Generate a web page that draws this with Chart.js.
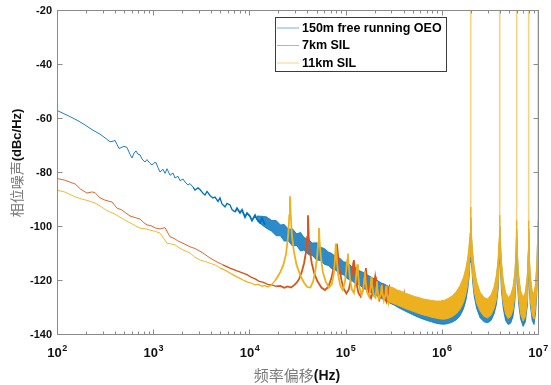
<!DOCTYPE html>
<html><head><meta charset="utf-8">
<script src="https://cdn.jsdelivr.net/npm/chart.js@4.4.1/dist/chart.umd.min.js"></script>
<style>
html,body{margin:0;padding:0;background:#fff;}
canvas{display:block;}
</style></head>
<body>
<canvas id="c" width="551" height="385"></canvas>
<script>
// ---- tick labels ----
const yTickLabels = [-20, -40, -60, -80, -100, -120, -140];
const xTickExps = [2, 3, 4, 5, 6, 7];
const seriesNames = ['150m free running OEO', '7km SIL', '11km SIL'];
const xTitleCN = '频率偏移', xTitleEN = '(Hz)';
const yTitleCN = '相位噪声', yTitleEN = '(dBc/Hz)';

// ---- 150m free running OEO (sparse low-frequency part) ----
const blueF = [100,118,137,165,196,231,280,323,356,382,401,421,441,474,497,534,574,602,632,663,695,729,765,822,862,927,972,1019,1069,1122,1177,1265,1327,1392,1495,1607,1685,1810,1899,2041,2141,2300,2413,2593,2720,2923,3066,3294,3456,3625,3894,4184,4389,4716,4947,5190,5577,5851,6285,6594,7085,7432,7986,8378,9001,9443,10145,10642,11435,11995,12890,13521,14526];
const blueV = [-57.2,-58.4,-59.5,-61.0,-62.6,-64.3,-66.0,-67.6,-68.8,-68.6,-68.3,-69.8,-71.3,-70.8,-70.5,-70.9,-73.5,-74.8,-73.0,-72.2,-73.4,-73.6,-75.2,-76.3,-75.4,-76.8,-77.4,-76.6,-76.5,-78.4,-80.0,-79.0,-80.5,-78.8,-81.2,-80.4,-82.2,-81.6,-83.2,-82.6,-83.7,-84.8,-84.3,-85.6,-86.7,-85.9,-86.5,-87.9,-88.5,-87.2,-88.7,-89.6,-89.3,-90.9,-89.6,-91.8,-92.9,-91.6,-92.2,-93.9,-94.8,-93.4,-95.1,-94.0,-96.7,-95.2,-96.4,-98.0,-96.0,-97.5,-98.8,-97.1,-99.5];
// dense part: envelope of the noise band
const blueBandF = [12000,13500,15000,17000,19000,21000,23000,25500,28000,31000,34000,37000,41000,45000,50000,55000,60000,66000,72000,79000,87000,95000,105000,115000,127000,140000,155000,170000,190000,210000,235000,260000,290000,320000,360000,400000,450000,500000,560000,630000,700000,780000,870000,960000,1060000,1170000,1290000,1420000,1550000,1680000,1780000,1860000,1920000,1965000,1990000,2000000,2010000,2040000,2090000,2170000,2300000,2500000,2750000,3000000,3250000,3500000,3700000,3850000,3950000,4000000,4050000,4170000,4350000,4600000,4900000,5200000,5500000,5750000,5900000,6000000,6100000,6300000,6600000,7000000,7400000,7750000,7930000,8000000,8070000,8300000,8700000,9100000,9450000,9750000,9930000,10000000];
const blueUp = [-96.3,-96.4,-96.6,-97.9,-98.0,-99.6,-99.4,-101.2,-101.0,-102.9,-102.4,-104.3,-104.9,-106.3,-106.2,-107.9,-108.3,-109.6,-110.2,-111.4,-111.9,-113.2,-113.6,-114.9,-115.5,-116.6,-117.3,-118.2,-119.2,-120.0,-121.1,-121.7,-122.8,-123.4,-124.5,-125.1,-126.1,-126.6,-127.5,-127.9,-128.6,-128.9,-129.3,-129.2,-128.9,-128.2,-127.1,-125.5,-123.3,-120.2,-116.8,-113.0,-108.8,-104.0,-99.5,-96.6,-99.5,-105,-110.5,-116,-121.5,-125.5,-127.5,-128,-126.5,-123.5,-119,-113.5,-106,-100,-106,-114,-121,-125.5,-127.5,-126.5,-123.5,-118,-111,-101,-111,-119,-125,-127.5,-125.5,-119,-110,-101,-110,-119,-125,-126,-122,-114,-104,-101];
const blueLo = [-98.0,-99.6,-100.8,-101.9,-103.6,-103.6,-105.6,-105.6,-107.4,-107.2,-109.3,-108.9,-110.6,-110.9,-112.6,-112.8,-114.2,-114.6,-115.9,-116.4,-117.8,-118.1,-119.6,-120.1,-121.4,-121.9,-123.2,-123.8,-125.0,-125.7,-126.8,-127.6,-128.6,-129.3,-130.4,-131.2,-132.1,-132.9,-133.7,-134.4,-135.0,-135.5,-136.0,-136.3,-136.4,-136.1,-135.6,-134.7,-133.2,-130.7,-127.6,-123.6,-119.2,-113.5,-106.5,-100.5,-106.5,-114,-120.5,-126,-130.5,-134,-135.5,-135.8,-135,-132.5,-129,-123.5,-114,-104,-114,-124,-130.5,-135,-136.5,-136,-133.5,-128,-121,-105,-121,-129,-134.5,-137.2,-135.5,-129.5,-120,-105,-120,-129,-135,-136.5,-132,-124,-112,-105];

// ---- 7km SIL ----
const redF = [100,120,140,154,175,205,230,248,280,315,345,373,421,470,520,574,650,729,800,862,950,1050,1177,1327,1495,1650,1800,2041,2413,2750,3294,3800,4200,4600,5300,6285,7200,8200,9443,10500,11500,12500,14000,15500,17000,19000,21000,23000,25000,27000,29000,31000,33000,35000,37000,38800,39900,40600,41400,42600,44500,47000,51000,56000,61000,66000,71000,75000,78500,80300,81200,82200,84000,87000,91000,96000,102000,108000,113500,117500,120500,121800,123200,126000,130000,136000,143000,150000,156000,160000,162400,164500,169000,176000,184000,192000,198500,203000,207000,214000,224000,234000,240500,244000,247500,256000,266000,276000,281000,284000,288000,297000,306000,316000,322000,325000,329000,340000,352000,360000,365000,370000,385000,400000,406000,412000,430000];
const redV = [-82.4,-83.0,-83.9,-84.4,-86.3,-87.8,-87.4,-87.6,-89.6,-90.4,-90.8,-91.1,-93.4,-94.0,-95.2,-96.3,-96.9,-97.4,-98.8,-99.6,-99.9,-100.7,-101.1,-100.6,-104.0,-104.6,-105.5,-106.4,-107.7,-108.4,-110.0,-111.6,-112.5,-113.3,-114.4,-115.6,-116.4,-117.2,-118.0,-119.0,-119.6,-120.4,-120.9,-121.6,-121.8,-122.4,-122.2,-122.9,-122.4,-122.8,-122.0,-121.0,-119.5,-117.0,-113.8,-109.5,-104,-96,-104,-109.5,-113.8,-117.3,-120.5,-122.8,-123.7,-122.6,-119.5,-115.6,-111.5,-108,-106.6,-108.5,-112,-116.5,-120.5,-123.4,-125.0,-123.5,-120,-116.5,-113.5,-112.6,-114,-118,-121.5,-124.8,-126,-124.2,-120.5,-117,-115.6,-117.5,-121.5,-125.2,-126.7,-124.5,-121,-118.8,-121.2,-124.8,-127.3,-125.5,-122,-121.2,-123,-126.6,-128,-124.8,-122.8,-122.5,-124.5,-127.6,-128.3,-125.5,-123.5,-123.4,-125.5,-128.6,-127.5,-125,-124.4,-126,-129.3,-127,-125.5,-127.5,-130.2];

// ---- 11km SIL ----
const yelF = [100,120,140,154,180,210,248,290,320,355,400,451,520,600,660,729,820,926,1050,1177,1280,1392,1520,1685,1900,2150,2413,2700,3066,3500,3900,4389,5000,5600,6285,7000,7800,8600,9443,10500,11500,12500,13500,14500,15500,16500,17500,18500,19500,21000,22500,24000,25300,26000,26400,26900,27700,29000,31000,34000,37000,40000,43000,46000,48500,50500,52000,52800,53700,55500,58000,62000,67000,72000,75500,77500,79200,81000,84000,88000,93000,98000,101500,104000,105600,107500,111000,116000,122000,127000,130000,132000,134500,139000,146000,153000,157000,158500,161000,167000,176000,182000,185000,188000,196000,205000,209000,211500,214500,222000,232000,237500,241000,250000,260000,264000,268000,279000,287000,290500,296000];
const yelV = [-86.7,-87.4,-88.5,-89.2,-90.0,-90.6,-91.5,-92.9,-94.0,-94.8,-95.6,-96.7,-98.0,-99.2,-100.0,-100.8,-101.0,-101.5,-102.0,-102.6,-104.5,-106.4,-106.6,-107.0,-108.3,-109.2,-110.0,-111.5,-112.6,-113.2,-113.8,-114.4,-115.6,-116.4,-117.4,-118.4,-119.2,-120.0,-120.7,-121.2,-121.8,-121.6,-122.3,-122.0,-122.6,-122.1,-121.2,-120.3,-119.0,-117.0,-114.5,-110.5,-103.5,-96,-89,-96,-103.5,-109.5,-114.5,-118.5,-121,-122.6,-122.8,-120.5,-116.5,-111.5,-106,-100.7,-106,-112,-117,-120.5,-122.8,-121.5,-117.5,-112.5,-106.5,-112.5,-118.5,-122,-123.6,-121.2,-116.5,-112.5,-110.2,-114,-119.5,-123.5,-124.8,-120.8,-116.8,-114.2,-117.5,-122.5,-125.6,-123,-119.2,-116.6,-120,-124.5,-126.2,-122.5,-118.8,-121.5,-125.8,-126.6,-122.8,-120.5,-123.5,-127,-125.5,-121.8,-124.5,-127.6,-125.3,-122.2,-125,-128.2,-125,-122.8,-126.5];
// dense part (both SIL traces overlap here): envelope
const yelBandF = [280000,310000,340000,380000,420000,470000,520000,580000,640000,710000,790000,870000,960000,1060000,1170000,1290000,1420000,1550000,1680000,1780000,1860000,1920000,1965000,1990000,2000000,2010000,2040000,2090000,2170000,2300000,2500000,2750000,3000000,3250000,3500000,3700000,3850000,3950000,4000000,4050000,4170000,4350000,4600000,4900000,5200000,5500000,5750000,5900000,6000000,6100000,6300000,6600000,7000000,7400000,7750000,7930000,8000000,8070000,8300000,8700000,9100000,9450000,9750000,9930000,10000000];
const yelUp = [-122.5,-122.8,-123.6,-124.2,-124.9,-125.5,-126.1,-126.5,-127.0,-127.3,-127.6,-127.8,-127.8,-127.5,-126.8,-125.8,-124.2,-122.0,-119.0,-115.6,-111.8,-107.5,-102.5,-97,-93,-97,-103.5,-109.5,-115,-120.5,-124.5,-126.5,-127,-125.5,-122.5,-118,-112.5,-104,-96,-104,-113,-120,-124.5,-126.5,-125.5,-122.5,-117,-109.5,-98,-109.5,-118,-124,-126.5,-124.5,-118,-108.5,-98,-108.5,-118,-124,-125,-121,-113,-103,-98];
const yelLo = [-128.0,-128.6,-129.2,-129.9,-130.6,-131.2,-131.8,-132.4,-132.9,-133.3,-133.8,-134.1,-134.4,-134.5,-134.2,-133.5,-132.4,-130.8,-128.3,-125.2,-121.5,-117.2,-111.5,-104,-97,-104,-112,-118.5,-124,-128.5,-131.5,-133.5,-134,-133,-130.5,-127,-121.5,-112,-100,-112,-122,-128.5,-132.5,-134.3,-133.5,-131,-126,-118.5,-102,-118.5,-127,-132.5,-135.2,-133.5,-127.5,-118,-102,-118,-127,-133,-134.5,-130,-122,-110,-102];
// spurs at the 2 MHz harmonics, running off the top of the plot
const spurF = [2000000, 4000000, 6000000, 8000000, 10000000];
const spurBase = [-96, -99, -100, -100, -100];
const spurTop = [-5, -5, -5, -5, -5];

// ---- colours ----
const BLUE = '#0072BD', RED = '#D95319', YEL = '#EDB120';

const pts = (f, v) => f.map((x, i) => ({x: x, y: v[i]}));
const spurPts = [];
spurF.forEach((f, i) => { spurPts.push({x: f, y: spurBase[i]}, {x: f, y: spurTop[i]}, {x: f, y: null}); });

// line width grows where the measured trace is dense (style only)
const widthBy = (lo, hi) => ({ borderWidth: c => {
  const f = c.p0.parsed.x;
  return f < lo ? 0.9 : (f < hi ? 1.3 : 1.8);
}});

const datasets = [
  {label: '_spur', data: spurPts, borderColor: 'rgba(237,177,32,0.55)', borderWidth: 1.6, spanGaps: false, order: 0},
  {label: seriesNames[2], data: pts(yelF, yelV), borderColor: YEL, borderWidth: 0.9, segment: widthBy(5000, 18000), order: 1},
  {label: '_yu', data: pts(yelBandF, yelUp), borderColor: YEL, borderWidth: 1, order: 2},
  {label: '_yl', data: pts(yelBandF, yelLo), borderColor: YEL, borderWidth: 1, fill: '-1', backgroundColor: YEL, order: 2},
  {label: seriesNames[1], data: pts(redF, redV), borderColor: RED, borderWidth: 0.9, segment: widthBy(5000, 18000), order: 3},
  {label: seriesNames[0], data: pts(blueF, blueV), borderColor: BLUE, borderWidth: 0.9, segment: widthBy(2500, 7000), order: 4},
  {label: '_bu', data: pts(blueBandF, blueUp), borderColor: 'rgba(0,114,189,0.75)', borderWidth: 1, order: 5},
  {label: '_bl', data: pts(blueBandF, blueLo), borderColor: 'rgba(0,114,189,0.75)', borderWidth: 1, fill: '-1', backgroundColor: 'rgba(0,114,189,0.82)', order: 5}
];
datasets.forEach(d => { d.pointRadius = 0; d.tension = 0; d.clip = 0; if (!d.fill) d.fill = false; });

const FONT = '"Liberation Sans", Arial, sans-serif';
const CJK = '"Noto Sans CJK SC", sans-serif';

const matlabAxes = {
  id: 'matlabAxes',
  afterDraw(chart) {
    const ctx = chart.ctx, a = chart.chartArea, xs = chart.scales.x, ys = chart.scales.y;
    ctx.save();
    ctx.strokeStyle = '#8a8a8a';
    ctx.lineWidth = 1;
    const L = Math.round(a.left) + 0.5, R = Math.round(a.right) + 0.5, T = Math.round(a.top) + 0.5, B = Math.round(a.bottom) + 0.5;
    ctx.strokeRect(L, T, R - L, B - T);
    ctx.beginPath();
    for (let i = 0; i < xTickExps.length; i++) {
      const e = xTickExps[i];
      for (let m = 1; m < 10; m++) {
        const v = m * Math.pow(10, e);
        if (v > Math.pow(10, xTickExps[xTickExps.length - 1])) break;
        const px = Math.round(xs.getPixelForValue(v)) + 0.5;
        const len = m === 1 ? 5 : 3;
        ctx.moveTo(px, B); ctx.lineTo(px, B - len);
        ctx.moveTo(px, T); ctx.lineTo(px, T + len);
      }
    }
    yTickLabels.forEach(v => {
      const py = Math.round(ys.getPixelForValue(v)) + 0.5;
      ctx.moveTo(L, py); ctx.lineTo(L + 5, py);
      ctx.moveTo(R, py); ctx.lineTo(R - 5, py);
    });
    ctx.stroke();

    ctx.fillStyle = '#111';
    ctx.font = 'bold 11px ' + FONT;
    ctx.textAlign = 'right';
    ctx.textBaseline = 'middle';
    yTickLabels.forEach(v => ctx.fillText(String(v), a.left - 5, ys.getPixelForValue(v) + 0.5));

    ctx.textBaseline = 'alphabetic';
    ctx.textAlign = 'left';
    xTickExps.forEach(e => {
      const px = xs.getPixelForValue(Math.pow(10, e));
      ctx.font = 'bold 13px ' + FONT;
      const w1 = ctx.measureText('10').width;
      ctx.font = 'bold 9px ' + FONT;
      const w2 = ctx.measureText(String(e)).width;
      const x0 = px - (w1 + w2) / 2;
      ctx.font = 'bold 13px ' + FONT;
      ctx.fillText('10', x0, 357);
      ctx.font = 'bold 9px ' + FONT;
      ctx.fillText(String(e), x0 + w1 + 0.5, 351);
    });

    // x title
    ctx.font = '15px ' + CJK;
    const cw = ctx.measureText(xTitleCN).width;
    ctx.font = 'bold 14px ' + FONT;
    const ew = ctx.measureText(xTitleEN).width;
    const xc = 297;
    let x0 = xc - (cw + ew) / 2;
    ctx.textBaseline = 'middle';
    ctx.font = '15px ' + CJK; ctx.fillStyle = '#7a7a7a';
    ctx.fillText(xTitleCN, x0, 375);
    ctx.font = 'bold 14px ' + FONT; ctx.fillStyle = '#111';
    ctx.fillText(xTitleEN, x0 + cw, 376);

    // y title (rotated)
    ctx.save();
    ctx.translate(17, 163);
    ctx.rotate(-Math.PI / 2);
    ctx.font = '14px ' + CJK;
    const cw2 = ctx.measureText(yTitleCN).width;
    ctx.font = 'bold 13px ' + FONT;
    const ew2 = ctx.measureText(yTitleEN).width;
    x0 = -(cw2 + ew2) / 2;
    ctx.font = '14px ' + CJK; ctx.fillStyle = '#7a7a7a';
    ctx.fillText(yTitleCN, x0, 0);
    ctx.font = 'bold 13px ' + FONT; ctx.fillStyle = '#111';
    ctx.fillText(yTitleEN, x0 + cw2, 0.5);
    ctx.restore();

    // legend
    const lx = 275.5, ly = 17.5, lw = 171, lh = 54;
    ctx.fillStyle = '#fff';
    ctx.fillRect(lx, ly, lw, lh);
    ctx.strokeStyle = '#3c3c3c';
    ctx.strokeRect(lx, ly, lw, lh);
    const rowY = [28, 45.5, 63];
    const cols = [BLUE, RED, YEL];
    ctx.font = 'bold 12.5px ' + FONT;
    ctx.textAlign = 'left';
    ctx.textBaseline = 'middle';
    for (let i = 0; i < 3; i++) {
      ctx.strokeStyle = cols[i];
      ctx.globalAlpha = 0.55;
      ctx.beginPath();
      ctx.moveTo(277, rowY[i]); ctx.lineTo(299, rowY[i]);
      ctx.stroke();
      ctx.globalAlpha = 1;
      ctx.fillStyle = '#000';
      ctx.fillText(seriesNames[i], 302, rowY[i] + 0.5);
    }
    ctx.restore();
  }
};

new Chart(document.getElementById('c'), {
  type: 'line',
  data: {datasets: datasets},
  options: {
    responsive: false,
    animation: false,
    devicePixelRatio: 1,
    layout: {padding: {left: 57, right: 13, top: 10, bottom: 51}},
    scales: {
      x: {type: 'logarithmic', min: 100, max: 1e7, display: false},
      y: {type: 'linear', min: -140, max: -20, display: false}
    },
    plugins: {legend: {display: false}, tooltip: {enabled: false}},
    elements: {point: {radius: 0}, line: {tension: 0}}
  },
  plugins: [matlabAxes]
});
</script>
</body></html>
